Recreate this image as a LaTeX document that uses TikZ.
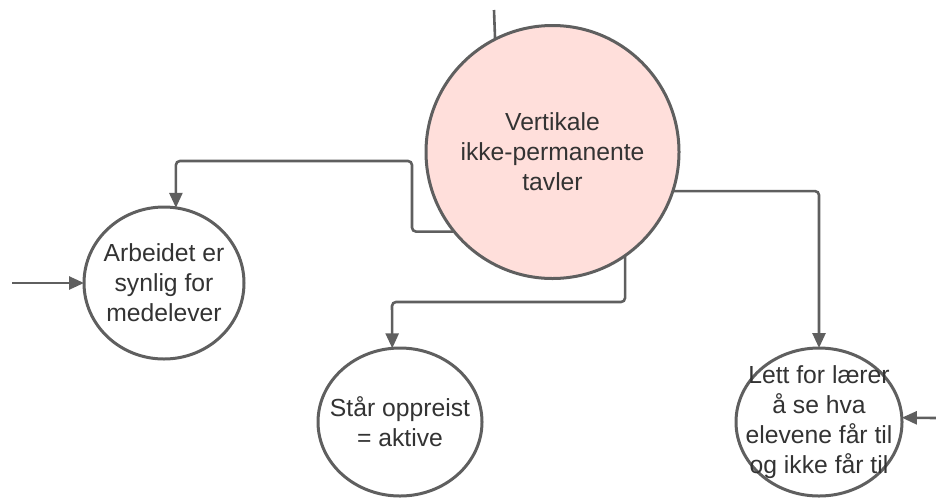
\documentclass[tikz,border=0pt]{standalone}
\usepackage{fontspec}
\setmainfont{Liberation Sans}
\usetikzlibrary{shapes.geometric,arrows.meta}
\definecolor{edge}{HTML}{5F5F5F}
\definecolor{ink}{HTML}{333333}
\definecolor{blush}{HTML}{FFDFDB}
\tikzset{
  bubble/.style={ellipse, draw=edge, line width=3pt, fill=white, inner sep=0pt, outer sep=0pt},
  hub/.style={circle, draw=edge, line width=3pt, fill=blush, inner sep=0pt, outer sep=0pt, minimum size=253pt},
  lbl/.style={align=center, text=ink, inner sep=0pt, font=\fontsize{24.7}{30}\selectfont},
  conn/.style={draw=edge, line width=2.6pt, rounded corners=4pt, -{Triangle[length=15pt,width=13pt]}},
  plain/.style={draw=edge, line width=2.6pt}
}
\begin{document}
\begin{tikzpicture}[x=1pt,y=-1pt]
  \useasboundingbox (0,0) rectangle (936,499);

  % nodes
  \node[hub] (pink) at (552.5,152)
    {}; \node[lbl] (pinktxt) at (pink.center) {Vertikale\\ikke-permanente\\tavler};
  \node[bubble, minimum width=160pt, minimum height=152pt] (arb) at (164,283) {};
  \node[lbl] (arbtxt) at (arb.center) {Arbeidet er\\synlig for\\medelever};
  \node[bubble, minimum width=164pt, minimum height=148pt] (mid) at (400,422) {};
  \node[lbl] (midtxt) at (mid.center) {Står oppreist\\= aktive};
  \node[bubble, minimum width=166pt, minimum height=148pt] (rt) at (819,422) {};
  \node[lbl] (rttxt) at (rt.center) {Lett for lærer\\å se hva\\elevene får til\\og ikke får til};

  % free ends and bends
  \coordinate (top) at (494,10);
  \coordinate (bendA) at (412,161);
  \coordinate (bendB) at (392,302);
  \coordinate (inL) at (12,283);
  \coordinate (inR) at (936,418);

  % connectors
  \draw[plain] (top) -- (pink.117.2);
  \draw[conn] (pink.219.3) -| (bendA) -| (arb.81.8);
  \draw[conn] (pink.-55) |- (bendB) -- (mid.96.1);
  \draw[conn] (pink.-18.2) -| (rt.north);
  \draw[conn] (inL) -- (arb.west);
  \draw[conn] (inR) -- (rt.3);
\end{tikzpicture}
\end{document}
